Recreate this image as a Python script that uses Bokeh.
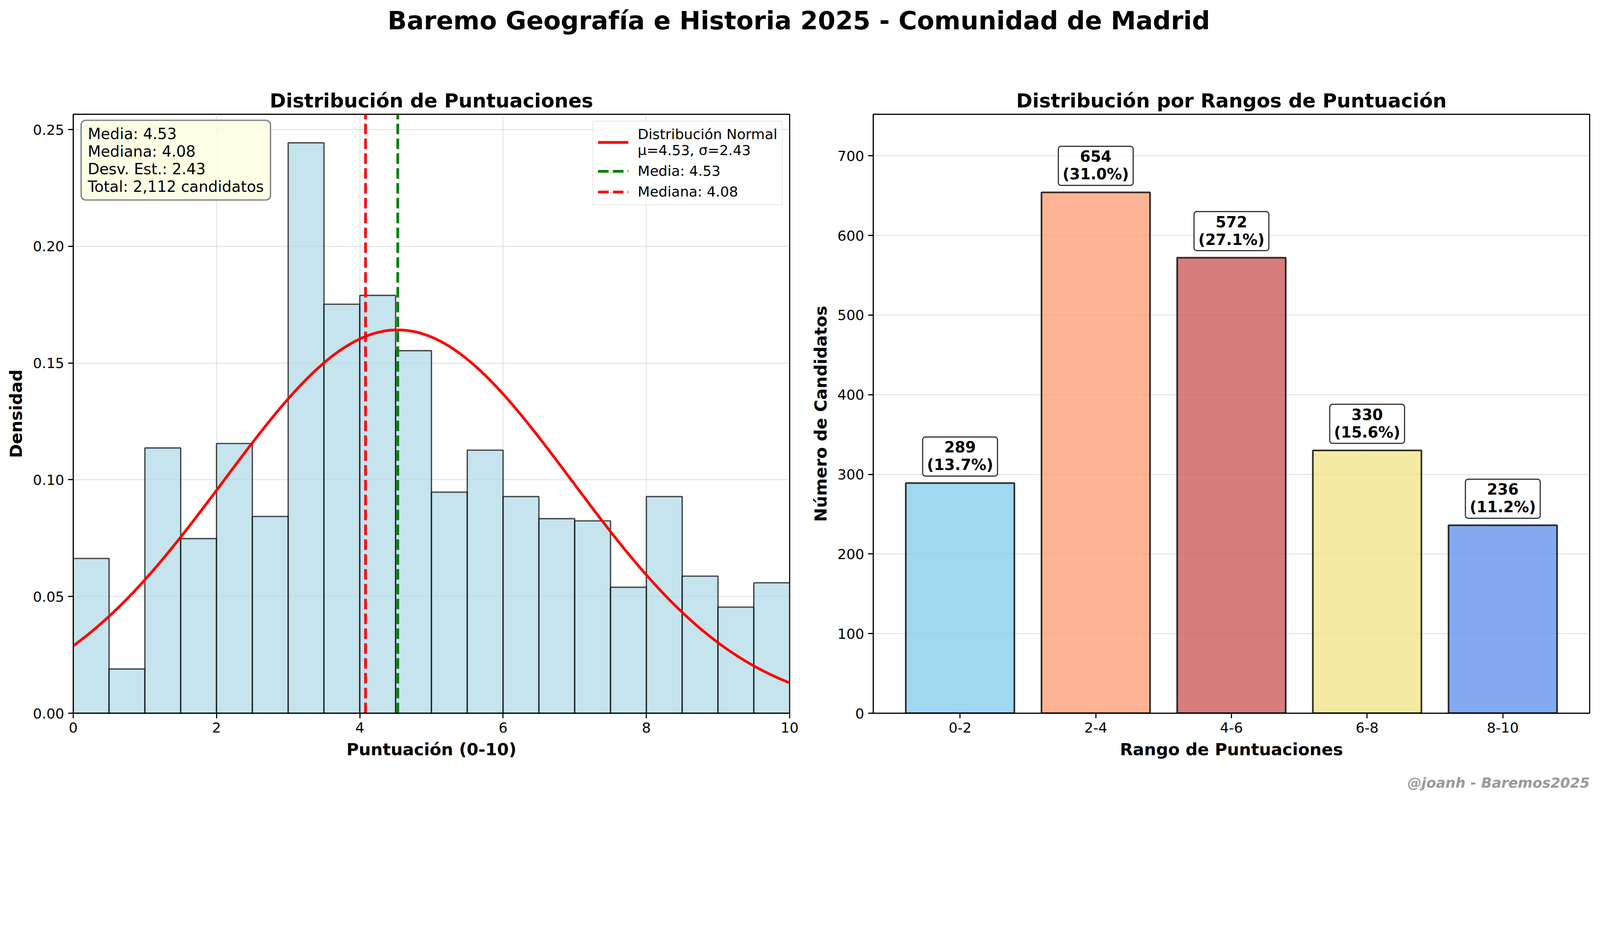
import numpy as np
from bokeh.plotting import figure
from bokeh.layouts import column, row
from bokeh.models import (ColumnDataSource, Range1d, Label, Legend, LegendItem, Title,
                          FixedTicker, SingleIntervalTicker, NumeralTickFormatter)
from bokeh.core.properties import value
from bokeh.embed import file_html
from bokeh.resources import INLINE

FONT = "DejaVu Sans"

# histograma: bins de 0.5 puntos entre 0 y 10 (recuento de candidatos por bin)
bin_edges = [0.0, 0.5, 1.0, 1.5, 2.0, 2.5, 3.0, 3.5, 4.0, 4.5, 5.0,
             5.5, 6.0, 6.5, 7.0, 7.5, 8.0, 8.5, 9.0, 9.5, 10.0]
bin_counts = [70, 20, 120, 79, 122, 89, 258, 185, 189, 164,
              100, 119, 98, 88, 87, 57, 98, 62, 48, 59]

media = 4.53
mediana = 4.08
desv = 2.43
total = 2112

# rangos de puntuacion
rangos = ["0-2", "2-4", "4-6", "6-8", "8-10"]
candidatos = [289, 654, 572, 330, 236]
colores = ["skyblue", "lightsalmon", "indianred", "khaki", "cornflowerblue"]


def estilo(p):
    p.outline_line_color = "black"
    p.outline_line_width = 2.8
    p.title.text_font = FONT
    p.title.text_font_size = "50px"
    p.title.text_font_style = "bold"
    p.title.text_color = "black"
    p.title.align = "center"
    p.title.standoff = 12
    for ax in (p.xaxis[0], p.yaxis[0]):
        ax.axis_line_width = 2.8
        ax.major_tick_out = 13
        ax.major_tick_in = 0
        ax.major_tick_line_width = 2.8
        ax.minor_tick_line_color = None
        ax.major_label_text_font = FONT
        ax.major_label_text_font_size = "36px"
        ax.major_label_text_color = "black"
        ax.major_label_standoff = 10
        ax.axis_label_text_font = FONT
        ax.axis_label_text_font_size = "43px"
        ax.axis_label_text_font_style = "bold"
        ax.axis_label_text_color = "black"
        ax.axis_label_standoff = 15


# ---------- izquierda: histograma de densidad ----------
densidad = [c / (total * (bin_edges[i + 1] - bin_edges[i])) for i, c in enumerate(bin_counts)]
y1_top = max(densidad) * 1.05

p1 = figure(frame_width=1834, frame_height=1533, x_range=Range1d(0, 10), y_range=Range1d(0, y1_top),
            title="Distribución de Puntuaciones", tools="", toolbar_location=None, output_backend="svg",
            min_border_left=187, min_border_right=34, min_border_top=112, min_border_bottom=210,
            x_axis_label="Puntuación (0-10)", y_axis_label="Densidad")
estilo(p1)
p1.grid.grid_line_color = "#b0b0b0"
p1.grid.grid_line_alpha = 0.3
p1.grid.grid_line_width = 2.8
p1.xaxis.ticker = SingleIntervalTicker(interval=2)
p1.yaxis.ticker = SingleIntervalTicker(interval=0.05)
p1.yaxis.formatter = NumeralTickFormatter(format="0.00")

p1.quad(left=bin_edges[:-1], right=bin_edges[1:], bottom=0, top=densidad,
        fill_color="lightblue", fill_alpha=0.7, line_color="black", line_alpha=0.7, line_width=3.4)

xs = np.linspace(0, 10, 300)
pdf = np.exp(-0.5 * ((xs - media) / desv) ** 2) / (desv * np.sqrt(2 * np.pi))
r_norm = p1.line(xs, pdf, line_color="red", line_width=6.9)
r_media = p1.line([media, media], [0, y1_top], line_color="green", line_width=6.9, line_dash="27 11")
r_mediana = p1.line([mediana, mediana], [0, y1_top], line_color="red", line_width=6.9, line_dash="27 11")

leyenda = Legend(items=[
    LegendItem(label="Distribución Normal\nμ=%.2f, σ=%.2f" % (media, desv), renderers=[r_norm]),
    LegendItem(label="Media: %.2f" % media, renderers=[r_media]),
    LegendItem(label="Mediana: %.2f" % mediana, renderers=[r_mediana]),
], location="top_right")
leyenda.label_text_font = FONT
leyenda.label_text_font_size = "36px"
leyenda.label_text_color = "black"
leyenda.glyph_width = 78
leyenda.glyph_height = 36
leyenda.label_standoff = 24
leyenda.label_height = 36
leyenda.padding = 12
leyenda.spacing = 12
leyenda.margin = 17
leyenda.border_line_color = "#d0d0d0"
leyenda.border_line_width = 2.6
leyenda.background_fill_alpha = 0.8
p1.add_layout(leyenda)

stats = "Media: %.2f\nMediana: %.2f\nDesv. Est.: %.2f\nTotal: {:,} candidatos".format(total) % (media, mediana, desv)
p1.add_layout(Label(x=0.011 * 10, y=0.99 * y1_top, text=stats, text_font=FONT, text_font_size="38.7px",
                    text_color="black", text_align="left", text_baseline="top", text_line_height=1.0,
                    padding=dict(left=17, right=17, top=12, bottom=12),
                    background_fill_color="lightyellow", background_fill_alpha=0.8,
                    border_line_color="gray", border_line_width=3.4, border_radius=12))

# ---------- derecha: barras por rangos ----------
idx = list(range(len(rangos)))
fuente = ColumnDataSource(dict(x=idx, y=candidatos, color=colores))
y2_top = max(candidatos) * 1.15

p2 = figure(frame_width=1834, frame_height=1533, x_range=Range1d(-0.64, len(rangos) - 0.36),
            y_range=Range1d(0, y2_top), title="Distribución por Rangos de Puntuación",
            tools="", toolbar_location=None, output_backend="svg",
            min_border_left=180, min_border_right=20, min_border_top=112, min_border_bottom=210,
            x_axis_label="Rango de Puntuaciones", y_axis_label="Número de Candidatos")
estilo(p2)
p2.xgrid.grid_line_color = None
p2.ygrid.grid_line_color = "#b0b0b0"
p2.ygrid.grid_line_alpha = 0.3
p2.ygrid.grid_line_width = 2.8
p2.xaxis.ticker = FixedTicker(ticks=idx)
p2.xaxis.major_label_overrides = {i: r for i, r in zip(idx, rangos)}
p2.yaxis.ticker = SingleIntervalTicker(interval=100)

p2.vbar(x="x", top="y", width=0.8, source=fuente, fill_color="color", fill_alpha=0.8,
        line_color="black", line_alpha=0.8, line_width=4.3)

for i, v in zip(idx, candidatos):
    p2.add_layout(Label(x=i, y=v, y_offset=18, text="%d\n(%.1f%%)" % (v, v / total * 100),
                        text_font=FONT, text_font_size="38.7px", text_font_style="bold", text_color="black",
                        text_align="center", text_baseline="bottom", text_line_height=1.0,
                        padding=dict(left=11, right=11, top=4, bottom=6),
                        background_fill_color="white", background_fill_alpha=0.8,
                        border_line_color="black", border_line_alpha=0.8, border_line_width=3,
                        border_radius=7))

p2.add_layout(Title(text="@joanh - Baremos2025", align="right", text_font=FONT, text_font_size="36px",
                    text_font_style="bold italic", text_color="#999999", standoff=70), "below")

# ---------- titulo general ----------
cab = figure(width=4089, height=180, x_range=Range1d(0, 1), y_range=Range1d(0, 1),
             tools="", toolbar_location=None, output_backend="svg", min_border=0)
cab.axis.visible = False
cab.grid.grid_line_color = None
cab.outline_line_color = None
cab.text(x=[0.5], y=[0.709], text=["Baremo Geografía e Historia 2025 - Comunidad de Madrid"],
         text_font=value(FONT), text_font_size="64.5px", text_font_style="bold",
         text_align="center", text_baseline="middle", text_color="black")

p = column(cab, row(p1, p2, spacing=0), spacing=0)
open("out.html", "w").write(file_html(p, INLINE))
